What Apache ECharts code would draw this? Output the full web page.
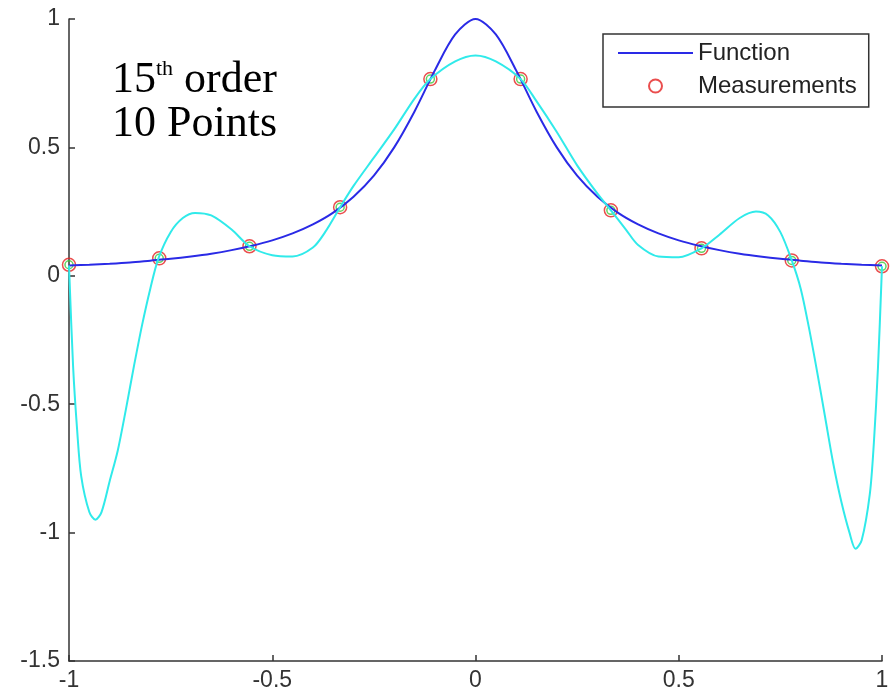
<!DOCTYPE html>
<html>
<head>
<meta charset="utf-8">
<script src="https://cdn.jsdelivr.net/npm/echarts@6/dist/echarts.min.js"></script>
<style>
    html, body { margin: 0; padding: 0; background: #ffffff; }
    #chart { width: 896px; height: 697px; }
</style>
</head>
<body>
<div id="chart"></div>
<script>
    // true function
    const funcX = [-1, -0.95, -0.9, -0.85, -0.8, -0.75, -0.7, -0.65, -0.6, -0.55, -0.5, -0.45, -0.4, -0.35, -0.3, -0.25, -0.2, -0.15, -0.1, -0.05, 0,
                   0.05, 0.1, 0.15, 0.2, 0.25, 0.3, 0.35, 0.4, 0.45, 0.5, 0.55, 0.6, 0.65, 0.7, 0.75, 0.8, 0.85, 0.9, 0.95, 1]
    const funcY = [0.04, 0.043, 0.047, 0.052, 0.059, 0.066, 0.075, 0.086, 0.1, 0.117, 0.138, 0.165, 0.2, 0.246, 0.308, 0.39, 0.5, 0.64, 0.8, 0.94, 1.0,
                   0.94, 0.8, 0.64, 0.5, 0.39, 0.308, 0.246, 0.2, 0.165, 0.138, 0.117, 0.1, 0.086, 0.075, 0.066, 0.059, 0.052, 0.047, 0.043, 0.04]

    // 15th order fit (cyan curve)
    const fitX = [-1, -0.99, -0.98, -0.97, -0.95, -0.935, -0.92, -0.9, -0.88, -0.86, -0.84, -0.82, -0.8, -0.78, -0.75, -0.72, -0.69, -0.65, -0.6, -0.556,
                  -0.5, -0.45, -0.4, -0.37, -0.333, -0.3, -0.25, -0.2, -0.15, -0.111, -0.05, 0,
                  0.05, 0.111, 0.15, 0.2, 0.25, 0.3, 0.333, 0.37, 0.4, 0.45, 0.5, 0.556, 0.6, 0.65, 0.69, 0.72, 0.75, 0.778,
                  0.8, 0.82, 0.84, 0.86, 0.88, 0.9, 0.92, 0.935, 0.95, 0.97, 0.98, 0.99, 1]
    const fitY = [0.04, -0.35, -0.6, -0.78, -0.92, -0.95, -0.92, -0.8, -0.68, -0.52, -0.35, -0.19, -0.05, 0.068, 0.17, 0.225, 0.245, 0.235, 0.18, 0.115,
                  0.08, 0.075, 0.11, 0.17, 0.267, 0.35, 0.46, 0.57, 0.69, 0.766, 0.835, 0.858,
                  0.835, 0.766, 0.68, 0.56, 0.43, 0.32, 0.255, 0.18, 0.12, 0.075, 0.072, 0.107, 0.16, 0.225, 0.25, 0.235, 0.17, 0.06,
                  -0.05, -0.2, -0.37, -0.55, -0.73, -0.88, -1.0, -1.063, -1.03, -0.85, -0.65, -0.36, 0.037]

    // measurements
    const measX = [-1, -0.778, -0.556, -0.333, -0.111, 0.111, 0.333, 0.556, 0.778, 1]
    const measY = [0.043, 0.068, 0.115, 0.267, 0.766, 0.766, 0.255, 0.107, 0.06, 0.037]

    const xTicks = [-1, -0.5, 0, 0.5, 1]
    const yTicks = [-1.5, -1, -0.5, 0, 0.5, 1]

    const pairs = (xs, ys) => xs.map((x, i) => [x, ys[i]])

    const chart = echarts.init(document.getElementById('chart'))
    const axisColor = '#333333'
    const labelFont = 'Liberation Sans, Arial, sans-serif'
    const serifFont = 'Liberation Serif, serif'

    const option = {
        animation: false,
        backgroundColor: '#ffffff',
        grid: { left: 69, right: 14, top: 19, bottom: 36 },
        xAxis: {
            type: 'value',
            min: xTicks[0],
            max: xTicks[xTicks.length - 1],
            interval: 0.5,
            axisLine: { show: true, onZero: false, lineStyle: { color: axisColor, width: 1.5 } },
            axisTick: { show: true, inside: true, length: 6, lineStyle: { color: axisColor, width: 1.5 } },
            axisLabel: { color: axisColor, fontSize: 23, fontFamily: labelFont, margin: 8 },
            splitLine: { show: false }
        },
        yAxis: {
            type: 'value',
            min: yTicks[0],
            max: yTicks[yTicks.length - 1],
            interval: 0.5,
            axisLine: { show: true, onZero: false, lineStyle: { color: axisColor, width: 1.5 } },
            axisTick: { show: true, inside: true, length: 6, lineStyle: { color: axisColor, width: 1.5 } },
            axisLabel: { color: axisColor, fontSize: 23, fontFamily: labelFont, margin: 9 },
            splitLine: { show: false }
        },
        legend: {
            data: [
                { name: 'Function', itemStyle: { opacity: 0 } },
                { name: 'Measurements' }
            ],
            orient: 'vertical',
            left: 603,
            top: 34,
            padding: [7, 12, 9, 14],
            itemWidth: 75,
            itemHeight: 13,
            itemGap: 9,
            itemTextGap: 13,
            borderColor: axisColor,
            borderWidth: 1.5,
            backgroundColor: '#ffffff',
            textStyle: { color: '#222222', fontSize: 24, fontFamily: labelFont, lineHeight: 24 }
        },
        graphic: [
            {
                type: 'text',
                left: 112,
                top: 58,
                style: {
                    text: '{a|15}{sup|th}{a| order}',
                    rich: {
                        a: { fontSize: 44, fontFamily: serifFont, fill: '#000', lineHeight: 44 },
                        sup: { fontSize: 22, fontFamily: serifFont, fill: '#000', verticalAlign: 'top', lineHeight: 28 }
                    }
                }
            },
            {
                type: 'text',
                left: 112,
                top: 102,
                style: { text: '10 Points', fontSize: 44, fontFamily: serifFont, fill: '#000' }
            }
        ],
        series: [
            {
                name: 'Function',
                type: 'line',
                data: pairs(funcX, funcY),
                symbol: 'none',
                smooth: 0.3,
                lineStyle: { color: '#2a2ae6', width: 2 },
                itemStyle: { color: '#2a2ae6' }
            },
            {
                name: 'Measurements',
                type: 'scatter',
                data: pairs(measX, measY),
                symbol: 'circle',
                symbolSize: 13,
                itemStyle: { color: 'rgba(255,255,255,0)', borderColor: '#e52222', borderWidth: 1.5 }
            },
            {
                name: 'inner',
                type: 'scatter',
                data: pairs(measX, measY),
                symbol: 'circle',
                symbolSize: 8,
                itemStyle: { color: 'rgba(255,255,255,0)', borderColor: '#3cc83c', borderWidth: 1.5 }
            },
            {
                name: 'Fit',
                type: 'line',
                data: pairs(fitX, fitY),
                symbol: 'none',
                smooth: 0.3,
                lineStyle: { color: '#30eaea', width: 2 },
                itemStyle: { color: '#30eaea' }
            }
        ]
    }
    chart.setOption(option)
</script>
</body>
</html>
